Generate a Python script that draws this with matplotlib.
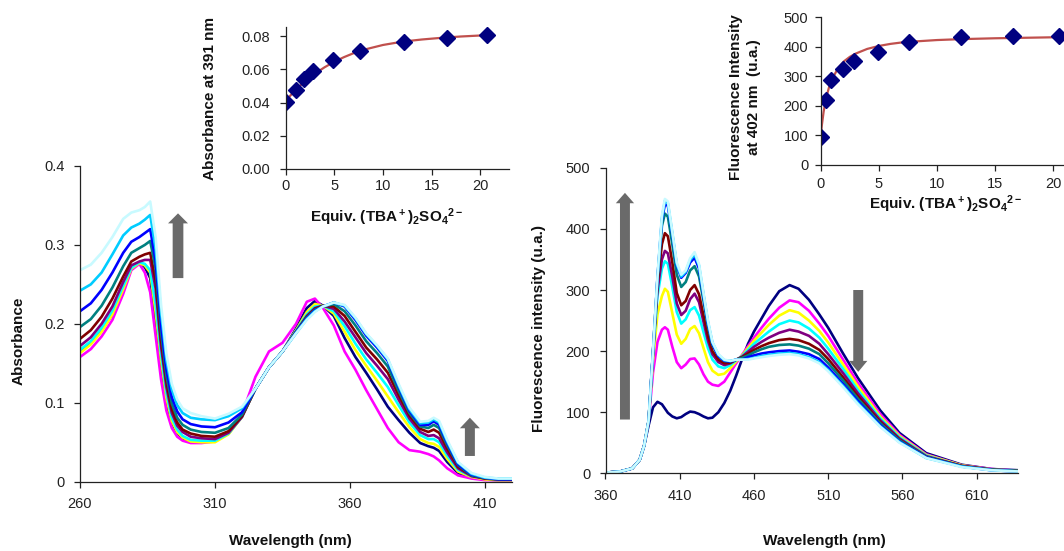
import matplotlib as mpl
mpl.use('Agg')
from matplotlib import pyplot as plt
from matplotlib.patches import FancyArrow

plt.rcParams['font.family'] = ['Liberation Sans', 'DejaVu Sans']
plt.rcParams['mathtext.fontset'] = 'custom'
plt.rcParams['mathtext.rm'] = 'Liberation Sans'
plt.rcParams['mathtext.bf'] = 'Liberation Sans:bold'

# ---- absorption spectra (nm, absorbance) ----
wl_abs = [260, 264, 268, 272, 276, 279, 282, 284, 286, 288, 290, 292, 294, 296, 298,
          301, 305, 310, 315, 320, 325, 330, 335, 340, 344, 347, 350, 354, 358, 362,
          366, 370, 374, 378, 382, 386, 389, 391, 393, 396, 400, 405, 410, 415, 420]
abs_navy = [.166, .176, .192, .212, .244, .27, .277, .272, .258, .205, .145, .1, .075, .062, .055,
            .051, .051, .052, .061, .083, .118, .145, .165, .194, .22, .229, .223, .21, .182, .158,
            .138, .117, .095, .078, .062, .049, .045, .043, .039, .025, .011, .005, .003, .002, .002]
abs_magenta = [.158, .168, .184, .205, .238, .268, .276, .265, .24, .185, .13, .09, .068, .057, .052,
               .049, .049, .051, .061, .086, .133, .165, .176, .2, .228, .232, .22, .198, .165, .142,
               .116, .092, .068, .05, .04, .038, .035, .032, .027, .017, .008, .004, .002, .002, .002]
abs_yellow = [.163, .174, .19, .212, .244, .27, .277, .274, .265, .215, .155, .106, .077, .063, .056,
              .051, .05, .05, .06, .082, .118, .145, .165, .192, .215, .225, .223, .213, .19, .167,
              .147, .128, .108, .088, .069, .054, .049, .048, .044, .029, .013, .006, .003, .002, .002]
abs_cyan = [.167, .178, .195, .217, .248, .271, .278, .276, .268, .225, .162, .112, .081, .066, .058,
            .053, .052, .052, .061, .082, .118, .145, .165, .191, .212, .222, .223, .216, .197, .175,
            .155, .138, .12, .097, .075, .059, .054, .054, .05, .033, .015, .007, .004, .003, .003]
abs_purple = [.172, .183, .2, .222, .253, .274, .279, .281, .281, .245, .172, .12, .087, .071, .063,
              .057, .055, .054, .062, .082, .118, .145, .165, .19, .21, .22, .223, .219, .203, .183,
              .163, .147, .13, .104, .08, .063, .058, .059, .055, .037, .017, .007, .004, .003, .003]
abs_maroon = [.181, .192, .209, .232, .26, .279, .285, .288, .29, .255, .18, .127, .092, .075, .066,
              .061, .058, .057, .064, .083, .118, .145, .165, .19, .209, .219, .223, .222, .21, .19,
              .17, .155, .138, .11, .084, .067, .063, .066, .062, .042, .019, .008, .004, .003, .003]
abs_teal = [.196, .206, .223, .246, .273, .29, .296, .3, .305, .27, .19, .134, .099, .081, .072,
            .066, .063, .062, .068, .085, .118, .145, .165, .19, .208, .218, .222, .225, .216, .198,
            .178, .163, .146, .115, .087, .07, .068, .072, .068, .046, .021, .008, .005, .003, .003]
abs_blue = [.216, .226, .243, .265, .29, .304, .31, .315, .32, .28, .2, .142, .107, .089, .079,
            .073, .07, .069, .075, .088, .118, .145, .165, .189, .207, .217, .222, .227, .222, .205,
            .185, .17, .153, .12, .09, .072, .072, .0766, .072, .049, .022, .009, .005, .003, .003]
abs_skyblue = [.242, .25, .265, .288, .312, .322, .327, .332, .338, .295, .215, .154, .117, .097, .087,
               .081, .079, .078, .083, .093, .118, .145, .165, .188, .206, .216, .222, .227, .223, .207,
               .187, .172, .155, .122, .092, .074, .075, .079, .075, .051, .024, .01, .005, .004, .004]
abs_lightcyan = [.268, .275, .29, .31, .333, .341, .344, .348, .355, .31, .225, .162, .124, .104, .093,
                 .087, .083, .08, .086, .095, .118, .145, .165, .188, .205, .215, .222, .227, .224, .208,
                 .188, .173, .156, .124, .094, .076, .077, .081, .077, .053, .025, .011, .006, .004, .004]

# ---- fluorescence spectra (nm, u.a.) ----
wl_fl = [360, 370, 378, 383, 386, 389, 392, 395, 398, 400, 402, 405, 408, 411, 414,
         417, 420, 423, 426, 429, 432, 436, 440, 444, 448, 452, 456, 460, 465, 470,
         477, 484, 490, 497, 504, 510, 520, 530, 545, 558, 576, 600, 620, 638]
fl_navy = [1, 3, 8, 22, 45, 78, 108, 117, 113, 106, 99, 93, 90, 92, 97,
           101, 100, 97, 93, 90, 91, 100, 115, 135, 160, 187, 212, 232, 253, 274,
           298, 308, 302, 284, 260, 238, 196, 156, 103, 66, 33, 14, 7, 5]
fl_magenta = [1, 3, 8, 22, 45, 85, 165, 215, 235, 239, 235, 207, 182, 172, 178,
              187, 188, 178, 162, 150, 145, 143, 150, 165, 180, 194, 208, 222, 238, 253,
              271, 283, 280, 266, 245, 225, 186, 148, 97, 63, 31, 13, 7, 4]
fl_yellow = [1, 3, 8, 22, 45, 85, 185, 260, 290, 302, 297, 262, 227, 212, 220,
             236, 241, 229, 205, 182, 168, 161, 163, 172, 183, 193, 205, 217, 230, 243,
             258, 267, 263, 250, 233, 214, 178, 142, 93, 61, 30, 13, 6, 4]
fl_cyan = [1, 3, 8, 22, 45, 85, 195, 290, 335, 347, 343, 305, 264, 245, 252,
           267, 272, 258, 231, 205, 186, 175, 172, 177, 185, 192, 202, 212, 222, 232,
           244, 250, 247, 237, 222, 204, 171, 136, 90, 59, 29, 12, 6, 4]
fl_purple = [1, 3, 8, 22, 45, 85, 197, 300, 350, 364, 360, 322, 278, 259, 266,
             285, 294, 280, 248, 217, 195, 182, 177, 180, 186, 191, 199, 207, 215, 222,
             230, 235, 232, 225, 212, 195, 164, 131, 87, 57, 28, 12, 6, 4]
fl_maroon = [1, 3, 8, 22, 45, 85, 198, 310, 375, 393, 388, 345, 295, 275, 282,
             300, 308, 293, 258, 225, 200, 186, 180, 181, 186, 190, 196, 202, 208, 213,
             218, 220, 218, 212, 202, 187, 157, 126, 84, 55, 27, 12, 6, 4]
fl_teal = [1, 3, 8, 22, 45, 85, 200, 318, 405, 425, 420, 375, 325, 305, 313,
           332, 339, 322, 282, 240, 210, 192, 184, 183, 186, 189, 193, 198, 203, 207,
           210, 211, 209, 204, 195, 180, 152, 122, 82, 54, 27, 11, 6, 4]
fl_blue = [1, 3, 8, 22, 45, 85, 200, 320, 415, 440, 438, 390, 340, 320, 328,
           345, 353, 335, 290, 245, 212, 192, 184, 183, 186, 186, 190, 193, 196, 198,
           200, 201, 199, 195, 187, 173, 146, 118, 79, 52, 26, 11, 5, 3]
fl_skyblue = [1, 3, 8, 22, 45, 86, 200, 320, 418, 446, 442, 393, 342, 322, 330,
              349, 358, 340, 293, 248, 214, 194, 185, 184, 186, 186, 187, 189, 192, 194,
              196, 197, 195, 190, 182, 169, 143, 115, 77, 51, 25, 11, 5, 3]
fl_lightcyan = [1, 3, 8, 22, 45, 86, 200, 322, 422, 449, 445, 395, 345, 325, 332,
                352, 362, 342, 295, 250, 215, 195, 186, 184, 186, 186, 186, 188, 190, 192,
                194, 195, 193, 188, 180, 167, 141, 113, 76, 50, 25, 10, 5, 3]

# ---- titration insets ----
eq_abs = [0, 1.03, 1.89, 2.85, 4.84, 7.65, 12.2, 16.56, 20.75]
abs_391 = [0.0405, 0.0475, 0.054, 0.059, 0.0656, 0.071, 0.0766, 0.0786, 0.0806]
fit_abs_x = [0, 0.5, 1, 1.5, 2, 3, 4, 5, 6, 7, 8, 10, 12, 14, 16, 18, 20, 21]
fit_abs_y = [0.041, 0.0443, 0.0474, 0.0502, 0.0528, 0.0573, 0.0612, 0.0645, 0.0673,
             0.0697, 0.0717, 0.0746, 0.0766, 0.0779, 0.0789, 0.0797, 0.0803, 0.0806]

eq_fl = [0, 0.46, 0.89, 1.89, 2.9, 4.9, 7.6, 12.1, 16.5, 20.5]
fl_402 = [96, 220, 288, 325, 352, 382, 416, 435, 438, 438]
fit_fl_x = [0, 0.1, 0.25, 0.5, 0.75, 1, 1.5, 2, 2.5, 3, 4, 5, 6, 7, 8, 10, 12, 15, 18, 21, 23]
fit_fl_y = [100, 135, 180, 232, 268, 293, 328, 351, 366, 377, 393, 403, 410, 415, 418,
            423, 426, 429, 431, 433, 434]

colors = ['#000080', '#FF00FF', '#FFFF00', '#00FFFF', '#800080',
          '#800000', '#008080', '#0000FF', '#00CCFF', '#C8FAFF']
abs_series = [abs_navy, abs_magenta, abs_yellow, abs_cyan, abs_purple,
              abs_maroon, abs_teal, abs_blue, abs_skyblue, abs_lightcyan]
fl_series = [fl_navy, fl_magenta, fl_yellow, fl_cyan, fl_purple,
             fl_maroon, fl_teal, fl_blue, fl_skyblue, fl_lightcyan]

W, H = 1064, 551
fig = plt.figure(figsize=(W / 100, H / 100), dpi=100, facecolor='w')


def px_axes(left, top, right, bottom):
    return fig.add_axes([left / W, 1 - bottom / H, (right - left) / W, (bottom - top) / H])


def excel_style(ax, xpad=7, ypad=7):
    for s in ('top', 'right'):
        ax.spines[s].set_visible(False)
    for s in ('left', 'bottom'):
        ax.spines[s].set_linewidth(0.9)
        ax.spines[s].set_color('#222222')
    ax.tick_params(axis='both', direction='out', length=4, width=0.9,
                   labelsize=10.5, colors='#222222')
    ax.tick_params(axis='x', pad=xpad)
    ax.tick_params(axis='y', pad=ypad)


arrow_col = '#6a6a6a'
lw = 1.9

# left: absorbance
ax1 = px_axes(80, 166, 512, 481.7)
for y, c in zip(abs_series, colors):
    ax1.plot(wl_abs, y, '-', color=c, lw=lw, solid_capstyle='round', solid_joinstyle='round')
ax1.set_xlim(260, 420)
ax1.set_ylim(0, 0.4)
ax1.set_xticks([260, 310, 360, 410])
ax1.set_yticks([0, 0.1, 0.2, 0.3, 0.4])
ax1.set_yticklabels(['0', '0.1', '0.2', '0.3', '0.4'])
excel_style(ax1)
ax1.add_patch(FancyArrow(296.3, 0.258, 0, 0.082, width=3.96, head_width=7.4,
                         head_length=0.0127, length_includes_head=True,
                         color=arrow_col, lw=0))
ax1.add_patch(FancyArrow(404.4, 0.0326, 0, 0.0485, width=3.7, head_width=7.4,
                         head_length=0.0134, length_includes_head=True,
                         color=arrow_col, lw=0))

# left inset
ax2 = px_axes(285.7, 26.7, 509.3, 169)
ax2.set_facecolor('none')
ax2.plot(fit_abs_x, fit_abs_y, '-', color='#C0504D', lw=1.6)
ax2.plot(eq_abs, abs_391, 'D', color='#000080', ms=8, mec='#000080')
ax2.set_xlim(0, 23)
ax2.set_ylim(0, 0.0856)
ax2.set_xticks([0, 5, 10, 15, 20])
ax2.set_yticks([0, 0.02, 0.04, 0.06, 0.08])
ax2.set_yticklabels(['0.00', '0.02', '0.04', '0.06', '0.08'])
excel_style(ax2, xpad=3, ypad=7)

# right: fluorescence
ax3 = px_axes(605.5, 167.8, 1018.3, 473.3)
for y, c in zip(fl_series, colors):
    ax3.plot(wl_fl, y, '-', color=c, lw=lw, solid_capstyle='round', solid_joinstyle='round')
ax3.set_xlim(360, 638)
ax3.set_ylim(0, 500)
ax3.set_xticks([360, 410, 460, 510, 560, 610])
ax3.set_yticks([0, 100, 200, 300, 400, 500])
excel_style(ax3)
ax3.add_patch(FancyArrow(373.1, 88, 0, 371, width=6.7, head_width=12.3,
                         head_length=17, length_includes_head=True,
                         color=arrow_col, lw=0))
ax3.add_patch(FancyArrow(530.2, 300, 0, -134, width=6.7, head_width=12.3,
                         head_length=18, length_includes_head=True,
                         color=arrow_col, lw=0))

# right inset
ax4 = px_axes(820.7, 17.3, 1088.2, 165)
ax4.set_facecolor('none')
ax4.plot(fit_fl_x, fit_fl_y, '-', color='#C0504D', lw=1.6)
ax4.plot(eq_fl, fl_402, 'D', color='#000080', ms=8, mec='#000080')
ax4.set_xlim(0, 23)
ax4.set_ylim(0, 500)
ax4.set_xticks([0, 5, 10, 15, 20])
ax4.set_yticks([0, 100, 200, 300, 400, 500])
excel_style(ax4, xpad=5, ypad=5)

# axis titles
lab = dict(fontsize=11, fontweight='bold', color='#111111', ha='center', va='center')
equiv = r'Equiv. (TBA$\mathbf{^+}$)$\mathbf{_2}$SO$\mathbf{_4}$$\mathbf{^{2-}}$'


def ftext(x, y, s, **kw):
    fig.text(x / W, 1 - y / H, s, **{**lab, **kw})


ftext(19, 341, 'Absorbance', rotation=90)
ftext(290, 541, 'Wavelength (nm)')
ftext(209.5, 98, 'Absorbance at 391 nm', rotation=90)
ftext(386.7, 217, equiv)
ftext(539, 328, 'Fluorescence intensity (u.a.)', rotation=90)
ftext(824, 541, 'Wavelength (nm)')
ftext(745, 97, 'Fluorescence Intensity\nat 402 nm  (u.a.)', rotation=90,
      multialignment='center', linespacing=1.35)
ftext(946, 204, equiv)

fig.savefig('out.png', dpi=100, facecolor='w')
